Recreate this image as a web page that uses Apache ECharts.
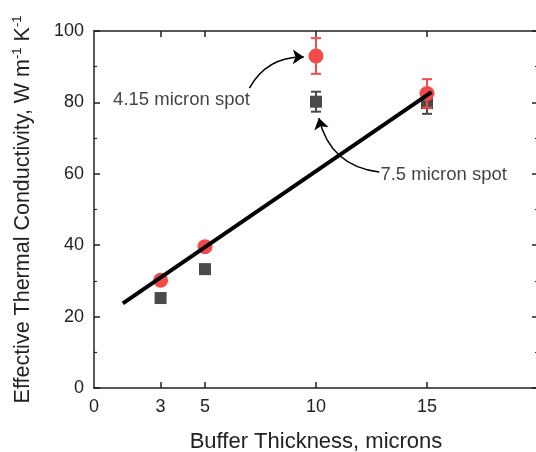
<!DOCTYPE html>
<html>
<head>
<meta charset="utf-8">
<script src="https://cdn.jsdelivr.net/npm/echarts@6/dist/echarts.min.js"></script>
<style>
  html, body { margin: 0; padding: 0; background: #fff; }
  #chart { width: 536px; height: 452px; }
</style>
</head>
<body>
<div id="chart"></div>
<script>
// buffer thickness (microns)
const thickness = [3, 5, 10, 15]
// 4.15 micron spot (red circles)
const spot415 = [30.2, 39.6, 93, 82.5]
const spot415Err = [1, 1, 5, 4]
// 7.5 micron spot (grey squares)
const spot75 = [25.2, 33.3, 80.2, 79.8]
const spot75Err = [1, 1, 2.8, 3]
// linear fit end points
const fitX = [1.3, 15.2]
const fitY = [23.7, 82.9]
const xLabels = [0, 3, 5, 10, 15]
const xTicks = [3, 5, 10, 15]

const red = '#f04a4a'
const grey = '#4a4a4a'
const font = 'Liberation Sans, Arial, sans-serif'

const errData = (vals, errs) => thickness.map((x, i) => [x, vals[i] - errs[i], vals[i] + errs[i]])

const errorBars = (color) => (params, api) => {
  const x = api.value(0)
  const lo = api.coord([x, api.value(1)])
  const hi = api.coord([x, api.value(2)])
  const w = 5
  const style = { stroke: color, lineWidth: 2 }
  return {
    type: 'group',
    children: [
      { type: 'line', shape: { x1: lo[0], y1: lo[1], x2: hi[0], y2: hi[1] }, style },
      { type: 'line', shape: { x1: lo[0] - w, y1: lo[1], x2: lo[0] + w, y2: lo[1] }, style },
      { type: 'line', shape: { x1: hi[0] - w, y1: hi[1], x2: hi[0] + w, y2: hi[1] }, style },
    ],
  }
}

const axisLine = { show: true, onZero: false, lineStyle: { color: '#222', width: 1.5 } }

var myChart = echarts.init(document.getElementById('chart'))
myChart.setOption({
  animation: false,
  grid: { left: 94, top: 31, right: -2, bottom: 64, containLabel: false, outerBoundsMode: 'none' },
  xAxis: [
    {
      type: 'value', min: 0, max: 20, position: 'bottom',
      axisLine,
      splitLine: { show: false },
      axisTick: { inside: true, length: 6, customValues: xTicks, lineStyle: { color: '#222', width: 1.5 } },
      axisLabel: { customValues: xLabels, fontSize: 18, color: '#222', fontFamily: font, margin: 10 },
      name: 'Buffer Thickness, microns',
      nameLocation: 'middle',
      nameGap: 43,
      nameTextStyle: { fontSize: 22, color: '#222', fontFamily: font },
    },
    {
      type: 'value', min: 0, max: 20, position: 'top',
      axisLine,
      splitLine: { show: false },
      axisTick: { inside: true, length: 6, customValues: xTicks, lineStyle: { color: '#222', width: 1.5 } },
      axisLabel: { show: false },
    },
  ],
  yAxis: [
    {
      type: 'value', min: 0, max: 100, interval: 20, position: 'left',
      axisLine,
      splitLine: { show: false },
      axisTick: { show: true, inside: true, length: 6, lineStyle: { color: '#222', width: 1.5 } },
      minorTick: { show: true, splitNumber: 2, length: 3, lineStyle: { color: '#222', width: 1.2 } },
      axisLabel: { fontSize: 18, color: '#222', fontFamily: font, margin: 10 },
      name: '{t|Effective Thermal Conductivity, W m}{s|-1}{t| K}{s|-1}',
      nameLocation: 'middle',
      nameGap: 59,
      nameTextStyle: {
        fontFamily: font,
        rich: {
          t: { fontSize: 21.5, color: '#222', fontFamily: font },
          s: { fontSize: 13, color: '#222', fontFamily: font, padding: [0, 0, 11, 0] },
        },
      },
    },
    {
      type: 'value', min: 0, max: 100, interval: 20, position: 'right',
      axisLine,
      splitLine: { show: false },
      axisTick: { show: true, inside: true, length: 6, lineStyle: { color: '#222', width: 1.5 } },
      minorTick: { show: true, splitNumber: 2, length: 3, lineStyle: { color: '#222', width: 1.2 } },
      axisLabel: { show: false },
    },
  ],
  series: [
    {
      type: 'custom', renderItem: errorBars(grey), z: 2,
      data: errData(spot75, spot75Err), encode: { x: 0, y: [1, 2] },
    },
    {
      name: '7.5 micron spot', type: 'scatter', symbol: 'rect', symbolSize: 12, z: 3,
      itemStyle: { color: grey, opacity: 1 },
      data: thickness.map((x, i) => [x, spot75[i]]),
    },
    {
      type: 'custom', renderItem: errorBars(red), z: 4,
      data: errData(spot415, spot415Err), encode: { x: 0, y: [1, 2] },
    },
    {
      name: '4.15 micron spot', type: 'scatter', symbol: 'circle', symbolSize: 15, z: 5,
      itemStyle: { color: red, opacity: 1 },
      data: thickness.map((x, i) => [x, spot415[i]]),
    },
    {
      name: 'fit', type: 'line', showSymbol: false, z: 6,
      lineStyle: { color: '#000', width: 4 },
      data: fitX.map((x, i) => [x, fitY[i]]),
    },
    {
      type: 'lines', coordinateSystem: 'cartesian2d', z: 7,
      symbol: ['none', 'arrow'], symbolSize: 11,
      lineStyle: { color: '#000', width: 1.5, opacity: 1 },
      data: [
        { coords: [[7.0, 84], [9.45, 92.7]], lineStyle: { curveness: 0.3 } },
        { coords: [[12.85, 60.5], [10.13, 75.6]], lineStyle: { curveness: 0.35 } },
      ],
    },
    {
      type: 'scatter', symbolSize: 0, z: 8, silent: true,
      label: {
        show: true, position: 'right', distance: 0,
        formatter: (p) => p.data[2],
        fontSize: 18.5, color: '#111', fontFamily: font,
      },
      data: [[0.86, 80.7, '4.15 micron spot'], [12.9, 59.7, '7.5 micron spot']],
    },
  ],
})
</script>
</body>
</html>
